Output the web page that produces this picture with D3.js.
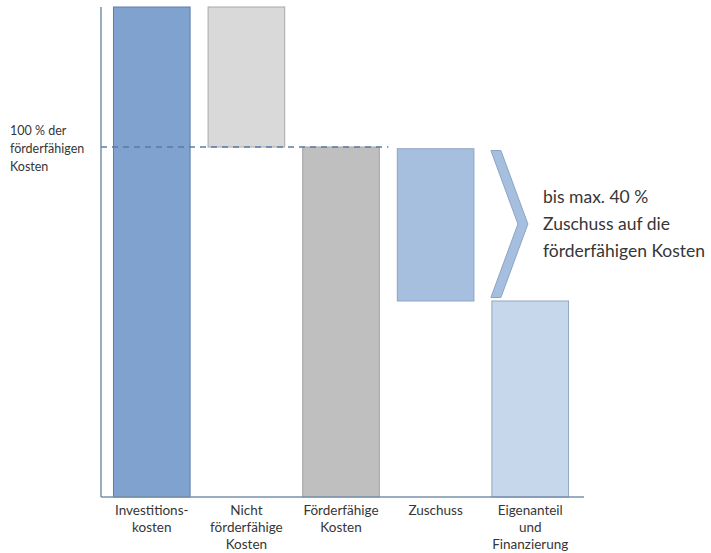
<!DOCTYPE html>
<html>
<head>
<meta charset="utf-8">
<script src="https://cdn.jsdelivr.net/npm/d3@7"></script>
<style>
  body { margin: 0; background: #fff; }
  text { font-family: Lato, "Open Sans", sans-serif; fill: #363636; }
</style>
</head>
<body>
<div class="chart"></div>
<script>
//categories shown under the bars (each entry is a list of lines)
var categories = ["Investitionskosten", "Nicht förderfähige Kosten", "Förderfähige Kosten", "Zuschuss", "Eigenanteil und Finanzierung"];
var labelLines = [["Investitions-", "kosten"], ["Nicht", "förderfähige", "Kosten"], ["Förderfähige", "Kosten"], ["Zuschuss"], ["Eigenanteil", "und", "Finanzierung"]];

//start and end of each bar, in % of the förderfähige Kosten
var barStart = [0, 100, 0, 56, 0];
var barEnd = [140, 140, 100, 99.5, 56];

//fill and outline of each bar
var barFill = ["#7fa2cf", "#d9d9d9", "#bfbfbf", "#a7bfdf", "#c7d7eb"];
var barStroke = ["#5d7ea9", "#a8a8a8", "#a3a3a3", "#8ba4c6", "#91a8c6"];

//side notes
var refLabel = ["100 % der", "förderfähigen", "Kosten"];
var noteLines = ["bis max. 40 %", "Zuschuss auf die", "förderfähigen Kosten"];

var width = 711, height = 553;

var svg = d3.select(".chart").append("svg")
  .attr("width", width)
  .attr("height", height);

//scales
var x = d3.scaleBand()
  .domain(categories)
  .range([104, 578])
  .paddingInner(0.19)
  .paddingOuter(0.1);

var y = d3.scaleLinear()
  .domain([0, 140])
  .range([497, 7]);

//bars
svg.selectAll(".bar")
  .data(categories)
  .enter()
  .append("rect")
  .attr("class", "bar")
  .attr("x", function(d) { return x(d); })
  .attr("width", x.bandwidth())
  .attr("y", function(d, i) { return y(barEnd[i]); })
  .attr("height", function(d, i) { return y(barStart[i]) - y(barEnd[i]); })
  .attr("fill", function(d, i) { return barFill[i]; })
  .attr("stroke", function(d, i) { return barStroke[i]; })
  .attr("stroke-width", 1);

//dashed 100 % line
svg.append("line")
  .attr("x1", 101)
  .attr("x2", x(categories[3]) - 9)
  .attr("y1", y(100))
  .attr("y2", y(100))
  .attr("stroke", "#5b7ba6")
  .attr("stroke-width", 1.3)
  .attr("stroke-dasharray", "6,5");

//axes lines
svg.append("line")
  .attr("x1", 101).attr("x2", 584)
  .attr("y1", y(0)).attr("y2", y(0))
  .attr("stroke", "#7790ab")
  .attr("stroke-width", 1.5);

svg.append("line")
  .attr("x1", 101).attr("x2", 101)
  .attr("y1", y(140)).attr("y2", y(0))
  .attr("stroke", "#7790ab")
  .attr("stroke-width", 1.5);

//chevron next to Zuschuss
var chevX = x(categories[4]) - 1;
var chevTop = y(99), chevBottom = y(57), chevMid = (chevTop + chevBottom) / 2;
var chevron = [[chevX, chevTop], [chevX + 10, chevTop], [chevX + 37, chevMid], [chevX + 10, chevBottom], [chevX, chevBottom], [chevX + 27, chevMid]];
svg.append("path")
  .attr("d", d3.line()(chevron) + "Z")
  .attr("fill", "#a7bfdf")
  .attr("stroke", "#8ba4c6")
  .attr("stroke-width", 1);

//category labels
var labels = svg.selectAll(".label")
  .data(categories)
  .enter()
  .append("text")
  .attr("class", "label")
  .attr("text-anchor", "middle")
  .style("font-size", "13.5px");

labels.selectAll("tspan")
  .data(function(d, i) { return labelLines[i].map(function(t) { return { t: t, c: x(d) + x.bandwidth() / 2 }; }); })
  .enter()
  .append("tspan")
  .attr("x", function(d) { return d.c; })
  .attr("y", function(d, j) { return 515 + j * 17; })
  .text(function(d) { return d.t; });

//label for the 100 % line
svg.append("text")
  .style("font-size", "12.5px")
  .selectAll("tspan")
  .data(refLabel)
  .enter()
  .append("tspan")
  .attr("x", 10)
  .attr("y", function(d, i) { return y(100) - 12 + i * 18; })
  .text(function(d) { return d; });

//note on the right
svg.append("text")
  .style("font-size", "17.5px")
  .selectAll("tspan")
  .data(noteLines)
  .enter()
  .append("tspan")
  .attr("x", 543)
  .attr("y", function(d, i) { return 203 + i * 27; })
  .text(function(d) { return d; });
</script>
</body>
</html>
